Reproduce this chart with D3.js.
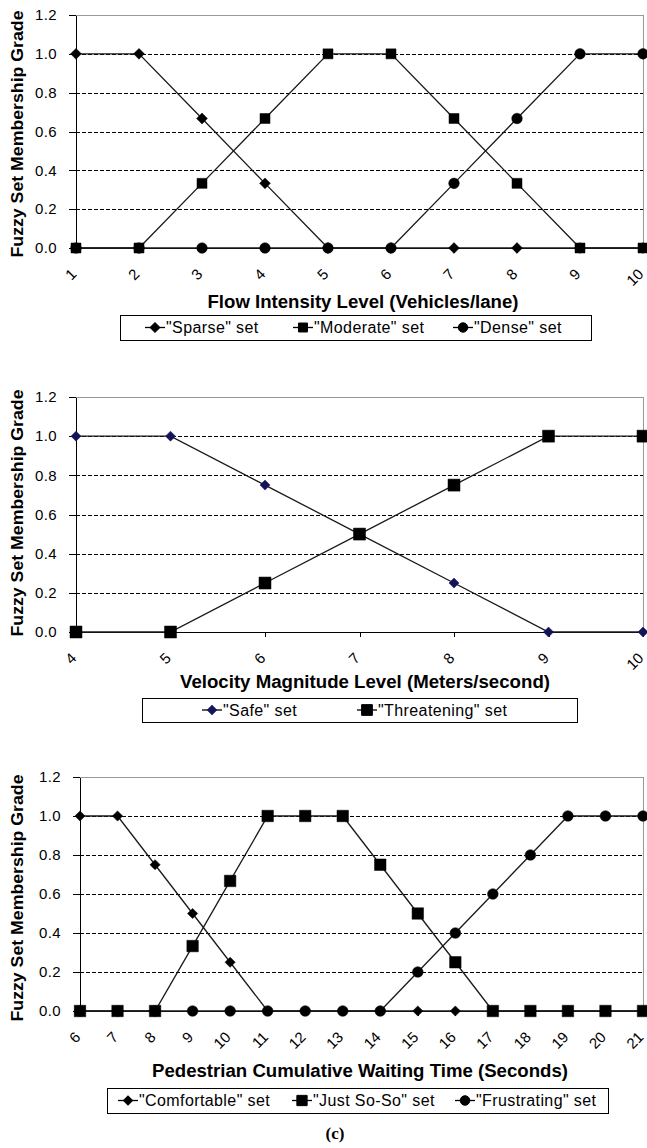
<!DOCTYPE html>
<html>
<head>
<meta charset="utf-8">
<style>
  body { margin: 0; background: #fff; }
  svg { display: block; font-family: Arial, "Liberation Sans", sans-serif; }
  .axis path, .axis line { stroke: #000; shape-rendering: crispEdges; }
  .axis text { font-size: 15px; letter-spacing: 0.4px; fill: #000; }
  .axis.x text { letter-spacing: 0; }
  .grid { stroke: #000; stroke-dasharray: 4,2; shape-rendering: crispEdges; }
  .frame { stroke: #999; fill: none; shape-rendering: crispEdges; }
  .series { fill: none; stroke: #1a1a1a; stroke-width: 1.3; }
  .title { font-weight: bold; fill: #000; }
  .legend text { font-size: 16px; letter-spacing: 0.4px; }
</style>
<script src="https://cdn.jsdelivr.net/npm/d3@7"></script>
</head>
<body>
<script>
// panel (a): flow intensity
var flowLevels = [1, 2, 3, 4, 5, 6, 7, 8, 9, 10];
var sparseSet = [1, 1, 0.667, 0.333, 0, 0, 0, 0, 0, 0];
var moderateSet = [0, 0, 0.333, 0.667, 1, 1, 0.667, 0.333, 0, 0];
var denseSet = [0, 0, 0, 0, 0, 0, 0.333, 0.667, 1, 1];

// panel (b): velocity magnitude
var velocityLevels = [4, 5, 6, 7, 8, 9, 10];
var safeSet = [1, 1, 0.75, 0.5, 0.25, 0, 0];
var threateningSet = [0, 0, 0.25, 0.5, 0.75, 1, 1];

// panel (c): pedestrian waiting time
var waitTimes = [6, 7, 8, 9, 10, 11, 12, 13, 14, 15, 16, 17, 18, 19, 20, 21];
var comfortableSet = [1, 1, 0.75, 0.5, 0.25, 0, 0, 0, 0, 0, 0, 0, 0, 0, 0, 0];
var justSoSoSet = [0, 0, 0, 0.333, 0.667, 1, 1, 1, 0.75, 0.5, 0.25, 0, 0, 0, 0, 0];
var frustratingSet = [0, 0, 0, 0, 0, 0, 0, 0, 0, 0.2, 0.4, 0.6, 0.8, 1, 1, 1];

var gradeTicks = [0, 0.2, 0.4, 0.6, 0.8, 1.0, 1.2];
var yLabel = 'Fuzzy Set Membership Grade';

var svg = d3.select('body').append('svg')
  .attr('width', 647)
  .attr('height', 1148);

function markerPath(shape, size) {
  if (shape === 'circle') return d3.symbol(d3.symbolCircle, size)();
  // diamonds are squares turned 45 degrees
  return d3.symbol(d3.symbolSquare, size)();
}

function drawPanel(p) {
  var x = d3.scaleLinear()
    .domain(d3.extent(p.levels))
    .range([p.left, p.right]);
  var y = d3.scaleLinear()
    .domain([0, 1.2])
    .range([p.bottom, p.top]);

  var g = svg.append('g');

  // frame top/right
  g.append('path')
    .attr('class', 'frame')
    .attr('d', 'M' + p.left + ',' + y(1.2) + 'H' + (p.right + 0.5) + 'V' + y(0));

  // dashed gridlines
  g.selectAll('.grid')
    .data(gradeTicks.filter(function(d) { return d > 0 && d < 1.2; }))
    .enter().append('line')
    .attr('class', 'grid')
    .attr('x1', p.left)
    .attr('x2', p.right)
    .attr('y1', function(d) { return Math.round(y(d)) + 0.5; })
    .attr('y2', function(d) { return Math.round(y(d)) + 0.5; });

  // y axis
  g.append('g')
    .attr('class', 'axis')
    .attr('transform', 'translate(' + p.left + ',0)')
    .call(d3.axisLeft(y).tickValues(gradeTicks).tickSize(7).tickSizeOuter(0)
      .tickPadding(12).tickFormat(d3.format('.1f')));

  // x axis
  var xa = g.append('g')
    .attr('class', 'axis x')
    .attr('transform', 'translate(0,' + y(0) + ')')
    .call(d3.axisBottom(x).tickValues(p.levels).tickSize(5).tickSizeOuter(0)
      .tickFormat(d3.format('d')));
  xa.selectAll('.tick text')
    .attr('y', 0).attr('dy', 0)
    .attr('text-anchor', 'end')
    .attr('transform', 'translate(1,27) rotate(-45)');

  // series, in Excel draw order
  p.drawOrder.forEach(function(i) {
    var s = p.series[i];
    var pts = p.levels.map(function(l, k) { return [l, s.values[k]]; });
    g.append('path')
      .attr('class', 'series')
      .attr('d', d3.line().x(function(d) { return x(d[0]); }).y(function(d) { return y(d[1]); })(pts));
    g.selectAll(null)
      .data(pts)
      .enter().append('path')
      .attr('d', markerPath(s.shape, s.size))
      .attr('fill', s.color)
      .attr('stroke', s.color)
      .attr('stroke-width', 0.5)
      .attr('transform', function(d) {
        return 'translate(' + x(d[0]) + ',' + y(d[1]) + ')' + (s.shape === 'diamond' ? ' rotate(45)' : '');
      });
  });

  // y title
  g.append('text')
    .attr('class', 'title')
    .attr('transform', 'translate(' + 23 + ',' + p.yTitleMid + ') rotate(-90)')
    .attr('text-anchor', 'middle')
    .attr('font-size', 16)
    .attr('textLength', 247)
    .attr('lengthAdjust', 'spacingAndGlyphs')
    .text(yLabel);

  // x title
  g.append('text')
    .attr('class', 'title')
    .attr('x', p.xTitle[0])
    .attr('y', p.xTitle[1])
    .attr('text-anchor', 'middle')
    .attr('font-size', 18)
    .attr('textLength', p.xTitle[2])
    .attr('lengthAdjust', 'spacingAndGlyphs')
    .text(p.xTitleText);

  // legend
  var lg = g.append('g').attr('class', 'legend');
  lg.append('rect')
    .attr('x', p.legendBox[0] + 0.5)
    .attr('y', p.legendBox[1] + 0.5)
    .attr('width', p.legendBox[2] - p.legendBox[0])
    .attr('height', p.legendBox[3] - p.legendBox[1])
    .attr('fill', '#fff')
    .attr('stroke', '#000')
    .attr('shape-rendering', 'crispEdges');
  var cy = (p.legendBox[1] + p.legendBox[3]) / 2;
  p.series.forEach(function(s, i) {
    var lx = p.legendX[i];
    lg.append('line')
      .attr('x1', lx).attr('x2', lx + 20)
      .attr('y1', cy).attr('y2', cy)
      .attr('stroke', '#000').attr('stroke-width', 1.3);
    lg.append('path')
      .attr('d', markerPath(s.shape, s.size * 0.8))
      .attr('fill', s.color)
      .attr('stroke', s.color)
      .attr('transform', 'translate(' + (lx + 10) + ',' + cy + ')' + (s.shape === 'diamond' ? ' rotate(45)' : ''));
    lg.append('text')
      .attr('x', lx + 21)
      .attr('y', cy)
      .attr('dy', '0.35em')
      .text('"' + s.name + '" set');
  });
}

drawPanel({
  levels: flowLevels,
  series: [
    { name: 'Sparse', values: sparseSet, shape: 'diamond', size: 58, color: '#000' },
    { name: 'Moderate', values: moderateSet, shape: 'square', size: 100, color: '#000' },
    { name: 'Dense', values: denseSet, shape: 'circle', size: 88, color: '#000' }
  ],
  drawOrder: [0, 2, 1],
  left: 76, right: 643, top: 15, bottom: 248,
  yTitleMid: 134,
  xTitleText: 'Flow Intensity Level (Vehicles/lane)',
  xTitle: [363, 308, 311],
  legendBox: [120, 315, 591, 340],
  legendX: [145, 293, 453]
});

drawPanel({
  levels: velocityLevels,
  series: [
    { name: 'Safe', values: safeSet, shape: 'diamond', size: 50, color: '#14145a' },
    { name: 'Threatening', values: threateningSet, shape: 'square', size: 144, color: '#000' }
  ],
  drawOrder: [0, 1],
  left: 76, right: 643, top: 397, bottom: 632,
  yTitleMid: 513,
  xTitleText: 'Velocity Magnitude Level (Meters/second)',
  xTitle: [365, 688, 370],
  legendBox: [142, 698, 577, 722],
  legendX: [202, 357]
});

drawPanel({
  levels: waitTimes,
  series: [
    { name: 'Comfortable', values: comfortableSet, shape: 'diamond', size: 52, color: '#000' },
    { name: 'Just So-So', values: justSoSoSet, shape: 'square', size: 132, color: '#000' },
    { name: 'Frustrating', values: frustratingSet, shape: 'circle', size: 90, color: '#000' }
  ],
  drawOrder: [0, 2, 1],
  left: 80, right: 643, top: 777, bottom: 1011,
  yTitleMid: 898,
  xTitleText: 'Pedestrian Cumulative Waiting Time (Seconds)',
  xTitle: [360, 1077, 416],
  legendBox: [107, 1088, 608, 1113],
  legendX: [118, 292, 455]
});

svg.append('text')
  .attr('x', 335)
  .attr('y', 1139)
  .attr('text-anchor', 'middle')
  .attr('font-family', '"Liberation Serif", "Times New Roman", serif')
  .attr('font-weight', 'bold')
  .attr('font-size', 17)
  .text('(c)');
</script>
</body>
</html>
